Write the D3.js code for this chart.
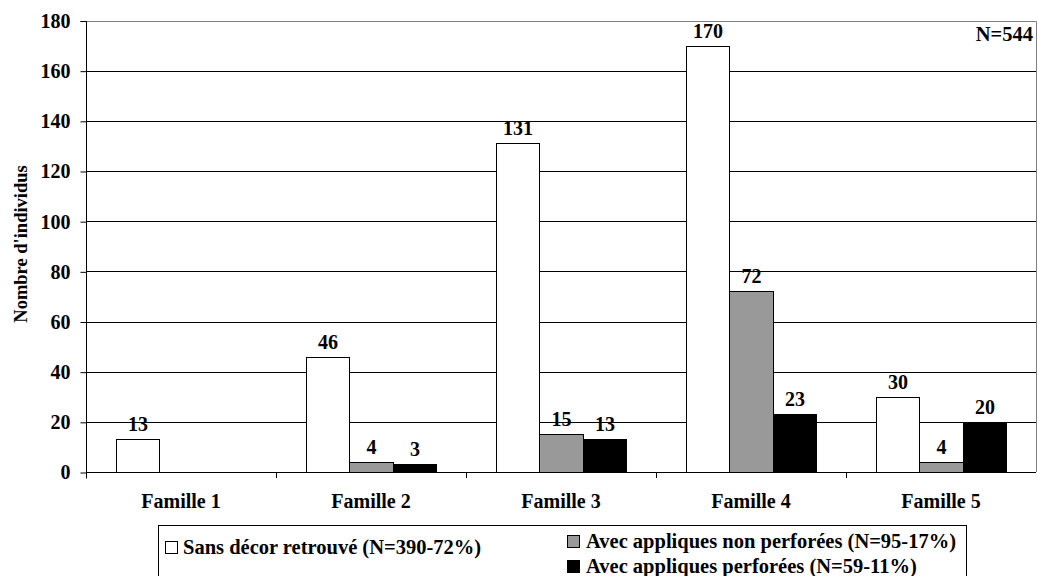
<!DOCTYPE html>
<html>
<head>
<meta charset="utf-8">
<script src="https://cdn.jsdelivr.net/npm/d3@7"></script>
<style>
  html, body { margin: 0; padding: 0; background: #fff; }
  svg { display: block; }
  svg text { font-family: "Liberation Serif", Tinos, "Times New Roman", Times, serif !important; font-weight: bold; fill: #000; }
</style>
</head>
<body>
<svg id="chart" width="1038" height="576"></svg>
<script>
const categories = ["Famille 1", "Famille 2", "Famille 3", "Famille 4", "Famille 5"];
const seriesNames = ["Sans décor retrouvé (N=390-72%)", "Avec appliques non perforées (N=95-17%)", "Avec appliques perforées (N=59-11%)"];
const sansDecor = [13, 46, 131, 170, 30];
const nonPerforees = [null, 4, 15, 72, 4];
const perforees = [null, 3, 13, 23, 20];
const yTicks = [0, 20, 40, 60, 80, 100, 120, 140, 160, 180];
const yTitle = "Nombre d'individus";
const totalLabel = "N=544";
const seriesColors = ["#ffffff", "#999999", "#000000"];

const FONT = '"Liberation Serif", Tinos, "Times New Roman", Times, serif';
const svg = d3.select("#chart");
const L = 86, R = 1036, T = 20.5, B = 472;

const x = d3.scaleBand().domain(categories).range([L, R]).padding(0);
const xs = d3.scaleBand().domain([0, 1, 2]).range([0, x.bandwidth()]).paddingInner(0).paddingOuter(0.709);
const y = d3.scaleLinear().domain([0, 180]).range([B, T]);

const seriesData = [sansDecor, nonPerforees, perforees];

// gridlines
svg.append("g").selectAll("line").data(yTicks.filter(d => d > 0 && d < 180)).join("line")
  .attr("x1", L).attr("x2", R)
  .attr("y1", d => Math.round(y(d)) + 0.5).attr("y2", d => Math.round(y(d)) + 0.5)
  .attr("stroke", "#000").attr("stroke-width", 1);

// plot border top/right (grey)
svg.append("path")
  .attr("d", `M${L},${Math.round(T)+0.5}H${R+0.5}V${Math.round(B)}`)
  .attr("fill", "none").attr("stroke", "#808080").attr("stroke-width", 1);

// bars
seriesData.forEach((vals, si) => {
  const g = svg.append("g");
  categories.forEach((c, ci) => {
    const v = vals[ci];
    if (v == null) return;
    const x0 = Math.round(x(c) + xs(si));
    const x1 = Math.round(x(c) + xs(si) + xs.bandwidth());
    const yt = Math.round(y(v));
    g.append("rect")
      .attr("x", x0 + 0.5).attr("y", yt + 0.5)
      .attr("width", x1 - x0).attr("height", Math.round(B) - yt)
      .attr("fill", seriesColors[si]).attr("stroke", "#000").attr("stroke-width", 1);
    g.append("text")
      .attr("x", (x0 + x1) / 2 + 0.5).attr("y", yt - 8)
      .attr("text-anchor", "middle").attr("font-size", 20)
      .text(v);
  });
});

// y axis
const yAxis = d3.axisLeft(y).tickValues(yTicks).tickSize(6).tickPadding(10);
const ya = svg.append("g").attr("transform", `translate(${L + 0.5},0.5)`).call(yAxis)
  .attr("font-family", FONT);
ya.select(".domain").attr("stroke", "#000").attr("d", `M-6,${Math.round(T)}H0V${Math.round(B)+6}`);
ya.selectAll(".tick line").attr("stroke", "#000");
ya.selectAll(".tick text").attr("font-size", 20).attr("fill", "#000");

// x axis
const xAxis = d3.axisBottom(x).tickSize(0).tickPadding(21);
const xa = svg.append("g").attr("transform", `translate(0,${Math.round(B)+0.5})`).call(xAxis)
  .attr("font-family", FONT);
xa.select(".domain").attr("stroke", "#000").attr("d", `M${L},0H${R}`);
xa.selectAll(".tick text").attr("font-size", 20).attr("fill", "#000");
// category separators
svg.append("g").selectAll("line").data(categories.slice(1)).join("line")
  .attr("x1", d => Math.round(x(d)) + 0.5).attr("x2", d => Math.round(x(d)) + 0.5)
  .attr("y1", Math.round(B)).attr("y2", Math.round(B) + 6)
  .attr("stroke", "#000");

// y title
svg.append("text")
  .attr("transform", `translate(27,244) rotate(-90)`)
  .attr("text-anchor", "middle").attr("font-size", 18.5)
  .text(yTitle);

// N label
svg.append("text").attr("x", 1033).attr("y", 41).attr("text-anchor", "end").attr("font-size", 20.5).text(totalLabel);

// legend
const lg = svg.append("g");
lg.append("rect").attr("x", 158.5).attr("y", 525.5).attr("width", 808).attr("height", 70)
  .attr("fill", "#fff").attr("stroke", "#000");
const legendPos = [
  { sx: 165, sy: 541, tx: 183, ty: 554 },
  { sx: 567, sy: 535, tx: 586, ty: 548 },
  { sx: 567, sy: 560, tx: 586, ty: 573 }
];
seriesNames.forEach((n, i) => {
  const p = legendPos[i];
  lg.append("rect").attr("x", p.sx + 0.5).attr("y", p.sy + 0.5).attr("width", 12).attr("height", 12)
    .attr("fill", seriesColors[i]).attr("stroke", "#000");
  lg.append("text").attr("x", p.tx).attr("y", p.ty).attr("font-size", 20.5).text(n);
});
</script>
</body>
</html>
